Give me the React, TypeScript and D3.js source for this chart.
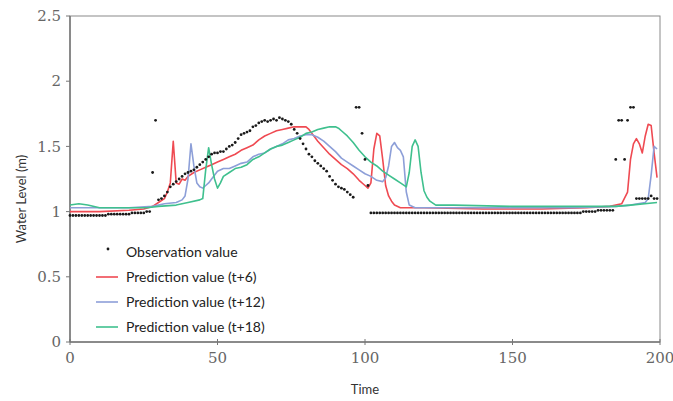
import React from "react";
import * as d3 from "d3";

const width = 673;
const height = 401;
const margin = { top: 16, right: 13, bottom: 59, left: 70 };

// observed water level, one value per time step (t = 0..199)
const observation: number[] = [
  0.97, 0.97, 0.97, 0.97, 0.97, 0.97, 0.97, 0.97, 0.97, 0.97,
  0.97, 0.97, 0.97, 0.98, 0.98, 0.98, 0.98, 0.98, 0.98, 0.98,
  0.98, 0.99, 0.99, 0.99, 0.99, 0.99, 1.0, 1.0, 1.3, 1.7,
  1.09, 1.1, 1.12, 1.15, 1.19, 1.21, 1.23, 1.25, 1.27, 1.29,
  1.3, 1.31, 1.32, 1.34, 1.36, 1.38, 1.4, 1.42, 1.44, 1.45,
  1.45, 1.46, 1.46, 1.48, 1.5, 1.51, 1.53, 1.56, 1.59, 1.6,
  1.61, 1.62, 1.65, 1.66, 1.68, 1.69, 1.7, 1.69, 1.7, 1.71,
  1.7, 1.72, 1.71, 1.7, 1.69, 1.67, 1.63, 1.6, 1.56, 1.52,
  1.48, 1.44, 1.42, 1.39, 1.37, 1.35, 1.33, 1.31, 1.27, 1.24,
  1.21, 1.19, 1.18, 1.17, 1.15, 1.13, 1.11, 1.8, 1.8, 1.6,
  1.4, 1.2, 0.99, 0.99, 0.99, 0.99, 0.99, 0.99, 0.99, 0.99,
  0.99, 0.99, 0.99, 0.99, 0.99, 0.99, 0.99, 0.99, 0.99, 0.99,
  0.99, 0.99, 0.99, 0.99, 0.99, 0.99, 0.99, 0.99, 0.99, 0.99,
  0.99, 0.99, 0.99, 0.99, 0.99, 0.99, 0.99, 0.99, 0.99, 0.99,
  0.99, 0.99, 0.99, 0.99, 0.99, 0.99, 0.99, 0.99, 0.99, 0.99,
  0.99, 0.99, 0.99, 0.99, 0.99, 0.99, 0.99, 0.99, 0.99, 0.99,
  0.99, 0.99, 0.99, 0.99, 0.99, 0.99, 0.99, 0.99, 0.99, 0.99,
  0.99, 0.99, 0.99, 0.99, 1.0, 1.0, 1.0, 1.0, 1.0, 1.01,
  1.01, 1.01, 1.01, 1.01, 1.01, 1.4, 1.7, 1.7, 1.4, 1.7,
  1.8, 1.8, 1.1, 1.1, 1.1, 1.1, 1.1, 1.12, 1.1, 1.1,
];

// predictions as [time, level]
const predT6: [number, number][] = [
  [0, 1.0], [10, 1.0], [20, 1.01], [25, 1.02], [28, 1.04], [30, 1.07],
  [32, 1.1], [33, 1.15], [34, 1.22], [35, 1.54], [36, 1.22], [37, 1.21],
  [38, 1.25], [39, 1.24], [40, 1.27], [42, 1.3], [44, 1.32], [46, 1.34],
  [48, 1.36], [50, 1.38], [52, 1.4], [54, 1.42], [56, 1.44], [58, 1.47],
  [60, 1.49], [62, 1.51], [64, 1.55], [66, 1.58], [68, 1.6], [70, 1.62],
  [72, 1.63], [74, 1.64], [76, 1.65], [78, 1.65], [80, 1.65], [81, 1.63],
  [82, 1.6], [84, 1.54], [86, 1.49], [88, 1.44], [90, 1.4], [92, 1.36],
  [94, 1.33], [96, 1.29], [98, 1.24], [100, 1.2], [101, 1.18], [102, 1.22],
  [103, 1.48], [104, 1.6], [105, 1.58], [106, 1.4], [107, 1.2], [108, 1.12],
  [109, 1.08], [110, 1.05], [112, 1.03], [120, 1.03], [140, 1.02], [160, 1.02],
  [175, 1.03], [183, 1.04], [187, 1.06], [189, 1.15], [190, 1.4], [191, 1.52],
  [192, 1.56], [193, 1.52], [194, 1.45], [195, 1.58], [196, 1.67], [197, 1.66],
  [198, 1.45], [199, 1.26],
];

const predT12: [number, number][] = [
  [0, 1.03], [10, 1.03], [20, 1.03], [28, 1.04], [32, 1.06], [36, 1.07],
  [38, 1.09], [39, 1.12], [40, 1.25], [41, 1.52], [42, 1.35], [43, 1.22],
  [44, 1.19], [45, 1.18], [46, 1.2], [47, 1.22], [48, 1.25], [50, 1.31],
  [52, 1.33], [54, 1.33], [56, 1.35], [58, 1.37], [60, 1.38], [62, 1.42],
  [64, 1.44], [66, 1.45], [68, 1.48], [70, 1.5], [72, 1.52], [74, 1.55],
  [76, 1.56], [78, 1.58], [80, 1.59], [82, 1.59], [84, 1.57], [86, 1.54],
  [88, 1.5], [90, 1.46], [92, 1.41], [94, 1.38], [96, 1.35], [98, 1.32],
  [100, 1.29], [102, 1.27], [104, 1.24], [106, 1.23], [107, 1.26], [108, 1.35],
  [109, 1.5], [110, 1.53], [111, 1.49], [112, 1.47], [113, 1.42], [114, 1.15],
  [115, 1.05], [117, 1.03], [130, 1.03], [150, 1.03], [170, 1.03], [185, 1.04],
  [190, 1.05], [195, 1.07], [196, 1.1], [197, 1.28], [198, 1.5], [199, 1.48],
];

const predT18: [number, number][] = [
  [0, 1.05], [3, 1.06], [6, 1.05], [10, 1.03], [20, 1.03], [26, 1.03],
  [30, 1.04], [36, 1.05], [40, 1.07], [44, 1.09], [45, 1.1], [46, 1.32],
  [47, 1.49], [48, 1.36], [49, 1.25], [50, 1.18], [51, 1.22], [52, 1.27],
  [54, 1.3], [56, 1.33], [58, 1.34], [60, 1.36], [62, 1.4], [64, 1.42],
  [66, 1.45], [68, 1.48], [70, 1.5], [72, 1.51], [74, 1.53], [76, 1.55],
  [78, 1.57], [80, 1.6], [82, 1.61], [84, 1.63], [86, 1.64], [88, 1.65],
  [90, 1.65], [91, 1.64], [92, 1.62], [94, 1.58], [96, 1.53], [98, 1.47],
  [100, 1.42], [102, 1.38], [104, 1.35], [106, 1.31], [108, 1.28], [110, 1.25],
  [112, 1.22], [114, 1.19], [115, 1.3], [116, 1.5], [117, 1.55], [118, 1.5],
  [119, 1.3], [120, 1.16], [121, 1.11], [122, 1.08], [124, 1.05], [130, 1.05],
  [150, 1.04], [170, 1.04], [185, 1.04], [190, 1.05], [199, 1.07],
];

const xTicks = [0, 50, 100, 150, 200];
const yTicks = [0, 0.5, 1, 1.5, 2, 2.5];
const yTickLabels = ["0", "0.5", "1", "1.5", "2", "2.5"];

const legendLabels = [
  "Observation value",
  "Prediction value (t+6)",
  "Prediction value (t+12)",
  "Prediction value (t+18)",
];
const lineColors = ["#ef4a52", "#8d9fd8", "#3fc08e"];

const x = d3
  .scaleLinear()
  .domain([0, 200])
  .range([margin.left, width - margin.right]);
const y = d3
  .scaleLinear()
  .domain([0, 2.5])
  .range([height - margin.bottom, margin.top]);

const lineFn = d3
  .line<[number, number]>()
  .x(d => x(d[0]))
  .y(d => y(d[1]));

const axisColor = "#8a8a8a";
const tickStyle = {
  fontFamily: "'DejaVu Serif', 'Liberation Serif', serif",
  fontSize: "15px",
  fill: "#666",
};
const sansFont = "Lato, 'Open Sans', sans-serif";

export default function App() {
  const series = [predT6, predT12, predT18];
  const x0 = x(0);
  const x1 = x(200);
  const y0 = y(0);
  const y1 = y(2.5);
  return (
    <svg
      width={width}
      height={height}
      style={{ position: "absolute", left: 0, top: 0, background: "#fff" }}
    >
      {/* frame */}
      <rect
        x={x0}
        y={y1}
        width={x1 - x0}
        height={y0 - y1}
        fill="none"
        stroke={axisColor}
        strokeWidth={1}
      />
      <line x1={x0} x2={x0} y1={y1} y2={y0} stroke="#777" strokeWidth={1.5} />
      <line x1={x0} x2={x1} y1={y0} y2={y0} stroke="#777" strokeWidth={1.5} />

      {yTicks.map((t, i) => (
        <g key={"y" + t}>
          <line x1={x0 - 4} x2={x0} y1={y(t)} y2={y(t)} stroke="#777" />
          <text x={x0 - 9} y={y(t)} dy="0.35em" textAnchor="end" style={tickStyle}>
            {yTickLabels[i]}
          </text>
        </g>
      ))}
      {xTicks.map(t => (
        <g key={"x" + t}>
          <line x1={x(t)} x2={x(t)} y1={y0 - 3} y2={y0 + 3} stroke="#777" />
          <text x={x(t)} y={y0 + 21} textAnchor="middle" style={tickStyle}>
            {t}
          </text>
        </g>
      ))}

      <text
        x={(x0 + x1) / 2}
        y={394}
        textAnchor="middle"
        fontFamily={sansFont}
        fontSize={13}
        fill="#333"
      >
        Time
      </text>
      <text
        transform={`translate(26,${(y0 + y1) / 2 + 20}) rotate(-90)`}
        textAnchor="middle"
        fontFamily={sansFont}
        fontSize={13}
        fill="#333"
      >
        Water Level (m)
      </text>

      {series.map((s, i) => (
        <path
          key={i}
          d={lineFn(s) || ""}
          fill="none"
          stroke={lineColors[i]}
          strokeWidth={1.6}
          strokeLinejoin="round"
        />
      ))}

      {observation.map((v, t) => (
        <circle key={t} cx={x(t)} cy={y(v)} r={1.4} fill="#1a1a1a" />
      ))}

      {/* legend */}
      <g fontFamily={sansFont} fontSize={14} fill="#222">
        {legendLabels.map((label, i) => {
          const ly = 252 + i * 25;
          return (
            <g key={label}>
              {i === 0 ? (
                <circle cx={108} cy={ly - 3} r={1.4} fill="#1a1a1a" />
              ) : (
                <line
                  x1={96}
                  x2={118}
                  y1={ly}
                  y2={ly}
                  stroke={lineColors[i - 1]}
                  strokeWidth={1.6}
                />
              )}
              <text x={126} y={ly} dy="0.35em">
                {label}
              </text>
            </g>
          );
        })}
      </g>
    </svg>
  );
}
